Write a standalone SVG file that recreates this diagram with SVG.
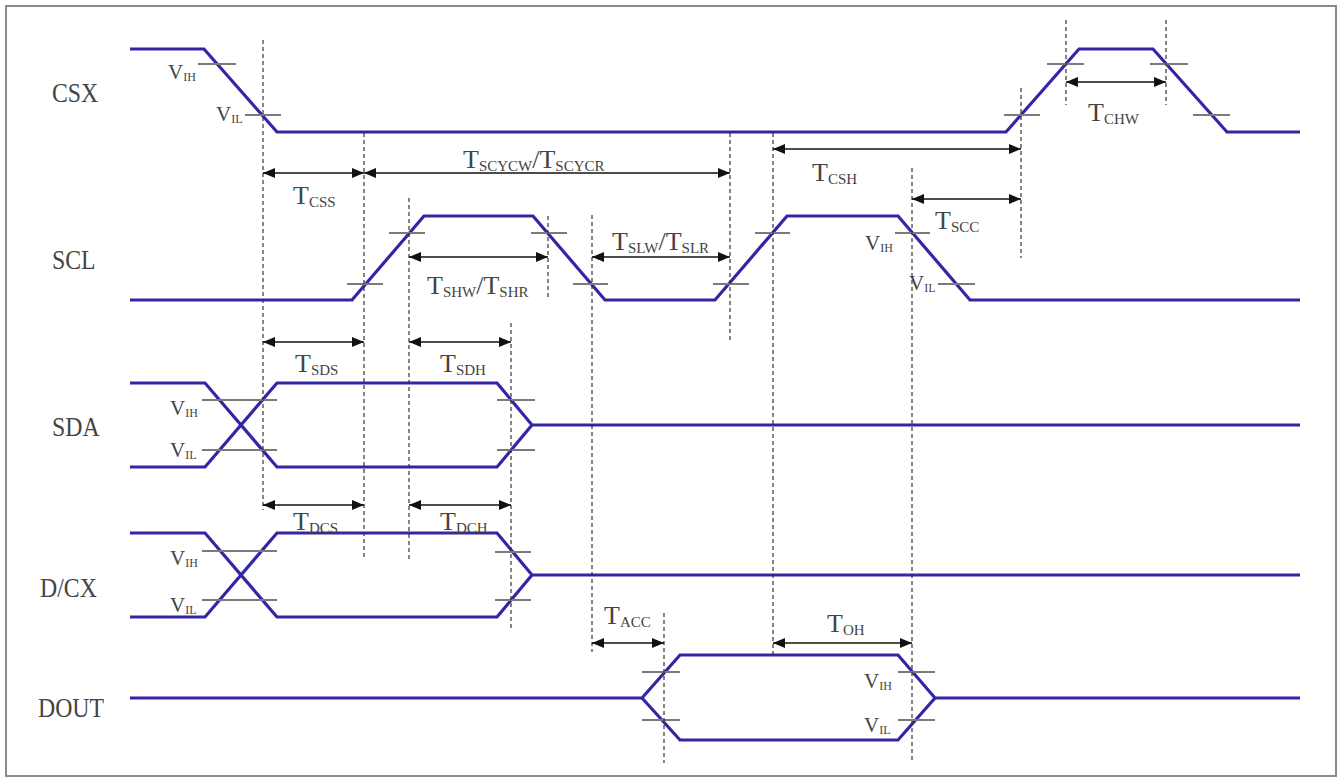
<svg xmlns="http://www.w3.org/2000/svg" width="1341" height="778" viewBox="0 0 1341 778">
<style>
.sig{fill:none;stroke:#3226a6;stroke-width:3.2;stroke-linejoin:miter}
.tick{stroke:#7a7a7a;stroke-width:2}
.dash{stroke:#333;stroke-width:1.2;stroke-dasharray:4 3}
.arr{stroke:#111;stroke-width:1.6;marker-start:url(#ah);marker-end:url(#ah)}
.lbl{font-family:"Liberation Serif",serif;font-size:28px;fill:#444}
.t{font-family:"Liberation Serif",serif;font-size:26px;fill:#444}
.s{font-size:15px}
.v{font-family:"Liberation Serif",serif;font-size:21px;fill:#444}
.vs{font-size:12px}
</style>
<defs>
<marker id="ah" viewBox="0 0 12 10" refX="12" refY="5" markerWidth="12" markerHeight="10" markerUnits="userSpaceOnUse" orient="auto-start-reverse">
<path d="M0,0 L12,5 L0,10 z" fill="#111"/>
</marker>
</defs>
<rect x="6" y="6" width="1330" height="770" fill="#fff" stroke="#8a8a8a" stroke-width="2"/>

<g id="CSX">
<text class="lbl" transform="translate(52,102) scale(0.85,1)">CSX</text>
<polyline class="sig" points="130,49 204,49 277,132 1006,132 1079,49 1153,49 1227,132 1300,132"/>
<line class="tick" x1="198" y1="64" x2="236" y2="64"/>
<line class="tick" x1="245" y1="115" x2="281" y2="115"/>
<line class="tick" x1="1004" y1="115" x2="1040" y2="115"/>
<line class="tick" x1="1047" y1="64" x2="1084" y2="64"/>
<line class="tick" x1="1150" y1="64" x2="1188" y2="64"/>
<line class="tick" x1="1193" y1="115" x2="1230" y2="115"/>
<text class="v" x="168" y="79">V<tspan class="vs" dy="2">IH</tspan></text>
<text class="v" x="216" y="121">V<tspan class="vs" dy="2">IL</tspan></text>
</g>

<g id="SCL">
<text class="lbl" transform="translate(52,269) scale(0.85,1)">SCL</text>
<polyline class="sig" points="130,300 352,300 424,216 533,216 605,300 715,300 787,216 898,216 970,300 1300,300"/>
<line class="tick" x1="347" y1="284" x2="383" y2="284"/>
<line class="tick" x1="389" y1="233" x2="425" y2="233"/>
<line class="tick" x1="531" y1="233" x2="567" y2="233"/>
<line class="tick" x1="573" y1="284" x2="608" y2="284"/>
<line class="tick" x1="713" y1="284" x2="749" y2="284"/>
<line class="tick" x1="755" y1="233" x2="790" y2="233"/>
<line class="tick" x1="895" y1="233" x2="930" y2="233"/>
<line class="tick" x1="938" y1="284" x2="975" y2="284"/>
<text class="v" x="865" y="250">V<tspan class="vs" dy="2">IH</tspan></text>
<text class="v" x="909" y="290">V<tspan class="vs" dy="2">IL</tspan></text>
</g>

<g id="SDA">
<text class="lbl" transform="translate(52,436) scale(0.85,1)">SDA</text>
<polyline class="sig" points="130,383 205,383 277,467 497,467 532,425"/>
<polyline class="sig" points="130,467 205,467 277,383 497,383 532,425 1300,425"/>
<line class="tick" x1="202" y1="400" x2="277" y2="400"/>
<line class="tick" x1="202" y1="450" x2="277" y2="450"/>
<line class="tick" x1="497" y1="400" x2="535" y2="400"/>
<line class="tick" x1="497" y1="450" x2="535" y2="450"/>
<text class="v" x="170" y="415">V<tspan class="vs" dy="2">IH</tspan></text>
<text class="v" x="170" y="457">V<tspan class="vs" dy="2">IL</tspan></text>
</g>

<g id="DCX">
<text class="lbl" transform="translate(40,597) scale(0.85,1)">D/CX</text>
<polyline class="sig" points="130,533 205,533 277,617 497,617 532,575"/>
<polyline class="sig" points="130,617 205,617 277,533 497,533 532,575 1300,575"/>
<line class="tick" x1="202" y1="551" x2="277" y2="551"/>
<line class="tick" x1="202" y1="600" x2="277" y2="600"/>
<line class="tick" x1="495" y1="552" x2="531" y2="552"/>
<line class="tick" x1="495" y1="600" x2="531" y2="600"/>
<text class="v" x="170" y="565">V<tspan class="vs" dy="2">IH</tspan></text>
<text class="v" x="170" y="612">V<tspan class="vs" dy="2">IL</tspan></text>
</g>

<g id="DOUT">
<text class="lbl" transform="translate(38,717) scale(0.85,1)">DOUT</text>
<polyline class="sig" points="130,698 642,698 680,655 898,655 935,698 1300,698"/>
<polyline class="sig" points="642,698 680,740 898,740 935,698"/>
<line class="tick" x1="642" y1="672" x2="680" y2="672"/>
<line class="tick" x1="642" y1="720" x2="680" y2="720"/>
<line class="tick" x1="898" y1="672" x2="935" y2="672"/>
<line class="tick" x1="898" y1="720" x2="935" y2="720"/>
<text class="v" x="864" y="688">V<tspan class="vs" dy="2">IH</tspan></text>
<text class="v" x="864" y="732">V<tspan class="vs" dy="2">IL</tspan></text>
</g>

<g id="connectors">
<line class="dash" x1="263" y1="40" x2="263" y2="510"/>
<line class="dash" x1="364" y1="133" x2="364" y2="560"/>
<line class="dash" x1="409" y1="198" x2="409" y2="560"/>
<line class="dash" x1="548" y1="216" x2="548" y2="298"/>
<line class="dash" x1="592" y1="215" x2="592" y2="652"/>
<line class="dash" x1="730" y1="133" x2="730" y2="342"/>
<line class="dash" x1="773" y1="133" x2="773" y2="657"/>
<line class="dash" x1="912" y1="168" x2="912" y2="763"/>
<line class="dash" x1="1021" y1="88" x2="1021" y2="258"/>
<line class="dash" x1="1066" y1="20" x2="1066" y2="105"/>
<line class="dash" x1="1166" y1="20" x2="1166" y2="105"/>
<line class="dash" x1="511" y1="323" x2="511" y2="628"/>
<line class="dash" x1="664" y1="613" x2="664" y2="763"/>

<line class="arr" x1="263" y1="173" x2="364" y2="173"/>
<line class="arr" x1="364" y1="173" x2="730" y2="173"/>
<line class="arr" x1="773" y1="149" x2="1021" y2="149"/>
<line class="arr" x1="1066" y1="82" x2="1166" y2="82"/>
<line class="arr" x1="912" y1="199" x2="1021" y2="199"/>
<line class="arr" x1="409" y1="257" x2="548" y2="257"/>
<line class="arr" x1="592" y1="257" x2="730" y2="257"/>
<line class="arr" x1="263" y1="342" x2="364" y2="342"/>
<line class="arr" x1="409" y1="342" x2="511" y2="342"/>
<line class="arr" x1="263" y1="505" x2="364" y2="505"/>
<line class="arr" x1="409" y1="505" x2="511" y2="505"/>
<line class="arr" x1="592" y1="643" x2="664" y2="643"/>
<line class="arr" x1="773" y1="643" x2="912" y2="643"/>

<text class="t" x="293" y="204">T<tspan class="s" dy="3">CSS</tspan></text>
<text class="t" x="463" y="168">T<tspan class="s" dy="3">SCYCW</tspan><tspan dy="-3">/T</tspan><tspan class="s" dy="3">SCYCR</tspan></text>
<text class="t" x="812" y="181">T<tspan class="s" dy="3">CSH</tspan></text>
<text class="t" x="1088" y="121">T<tspan class="s" dy="3">CHW</tspan></text>
<text class="t" x="935" y="229">T<tspan class="s" dy="3">SCC</tspan></text>
<text class="t" x="427" y="294">T<tspan class="s" dy="3">SHW</tspan><tspan dy="-3">/T</tspan><tspan class="s" dy="3">SHR</tspan></text>
<text class="t" x="612" y="250">T<tspan class="s" dy="3">SLW</tspan><tspan dy="-3">/T</tspan><tspan class="s" dy="3">SLR</tspan></text>
<text class="t" x="295" y="372">T<tspan class="s" dy="3">SDS</tspan></text>
<text class="t" x="440" y="372">T<tspan class="s" dy="3">SDH</tspan></text>
<text class="t" x="293" y="530">T<tspan class="s" dy="3">DCS</tspan></text>
<text class="t" x="440" y="530">T<tspan class="s" dy="3">DCH</tspan></text>
<text class="t" x="604" y="624">T<tspan class="s" dy="3">ACC</tspan></text>
<text class="t" x="827" y="632">T<tspan class="s" dy="3">OH</tspan></text>
</g>
</svg>
